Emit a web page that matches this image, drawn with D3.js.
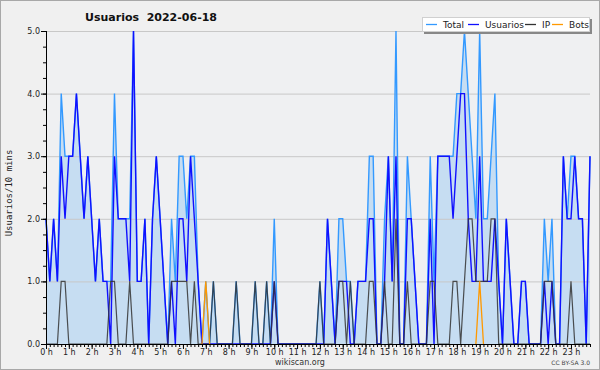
<!DOCTYPE html>
<html>
<head>
<meta charset="utf-8">
<script src="https://cdn.jsdelivr.net/npm/d3@7"></script>
<style>
body { margin: 0; background: #fff; }
svg text { font-family: "DejaVu Sans", sans-serif; }
</style>
</head>
<body>
<svg id="chart" width="600" height="370"></svg>
<script>
// 10 minute slots, 0h .. 23h50
var usuarios = [
  2,1,2,1,3,2,3,3,4,3,2,3,
  2,1,2,1,1,0,3,2,2,2,1,5,
  1,1,2,0,2,3,2,1,0,1,0,2,
  2,1,3,2,1,0,0,0,0,0,0,0,
  0,0,0,0,0,0,0,0,0,0,0,0,
  1,0,0,0,0,0,0,0,0,0,0,0,
  0,0,2,1,0,1,1,1,0,0,1,1,
  1,2,2,0,0,1,3,1,3,0,0,2,
  2,1,0,0,0,2,0,3,3,3,3,2,
  3,4,4,2,1,1,3,1,1,1,2,1,
  0,2,1,0,0,1,1,0,0,0,0,1,
  0,1,0,0,3,2,2,3,2,2,0,3
];
var ip = [
  0,0,0,0,1,1,0,0,0,0,0,0,
  0,0,0,0,0,1,1,0,0,0,1,0,
  0,0,0,0,0,0,0,0,0,1,1,1,
  1,1,0,1,0,0,0,0,1,0,0,0,
  0,0,1,0,0,0,0,1,0,0,1,0,
  1,0,0,0,0,0,0,0,0,0,0,0,
  1,0,0,0,0,1,1,0,1,0,0,0,
  0,1,1,0,0,1,0,0,2,0,0,1,
  0,0,0,0,0,1,1,0,0,0,0,1,
  1,0,1,2,2,1,1,1,1,2,2,0,
  0,0,0,0,0,0,0,0,0,0,0,1,
  1,1,0,0,0,0,1,0,0,0,0,0
];
var bots = [
  0,0,0,0,0,0,0,0,0,0,0,0,
  0,0,0,0,0,0,0,0,0,0,0,0,
  0,0,0,0,0,0,0,0,0,0,0,0,
  0,0,0,0,0,0,1,0,0,0,0,0,
  0,0,0,0,0,0,0,0,0,0,0,0,
  0,0,0,0,0,0,0,0,0,0,0,0,
  0,0,0,0,0,0,0,0,0,0,0,0,
  0,0,0,0,0,0,0,0,0,0,0,0,
  0,0,0,0,0,0,0,0,0,0,0,0,
  0,0,0,0,0,0,1,0,0,0,0,0,
  0,0,0,0,0,0,0,0,0,0,0,0,
  0,0,0,0,0,0,0,0,0,0,0,0
];
var total = [
  2,1,2,1,4,3,3,3,4,3,2,3,
  2,1,2,1,1,1,4,2,2,2,2,5,
  1,1,2,0,2,3,2,1,0,2,1,3,
  3,2,3,3,1,0,1,0,1,0,0,0,
  0,0,1,0,0,0,0,1,0,0,1,0,
  2,0,0,0,0,0,0,0,0,0,0,0,
  1,0,2,1,0,2,2,1,1,0,1,1,
  1,3,3,0,0,2,3,1,5,0,0,3,
  2,1,0,0,0,3,1,3,3,3,3,3,
  4,4,5,4,3,2,5,2,2,3,4,1,
  0,2,1,0,0,1,1,0,0,0,0,2,
  1,2,0,0,3,2,3,3,2,2,0,3
];
var hourLabels = ["0 h","1 h","2 h","3 h","4 h","5 h","6 h","7 h","8 h","9 h","10 h","11 h",
  "12 h","13 h","14 h","15 h","16 h","17 h","18 h","19 h","20 h","21 h","22 h","23 h"];
var yTicks = [0, 1, 2, 3, 4, 5];
var legendNames = ["Total", "Usuarios", "IP", "Bots"];
var colors = {Total: "#3399ff", Usuarios: "#1010ff", IP: "#333333", Bots: "#ff9900"};

var svg = d3.select("#chart");
var pLeft = 46, pRight = 590, pTop = 31, pBottom = 344;

svg.append("rect").attr("x", 0.5).attr("y", 0.5).attr("width", 599).attr("height", 369)
  .attr("fill", "#f0f0f0").attr("stroke", "#a8a8a8");
svg.append("rect").attr("x", pLeft).attr("y", pTop).attr("width", pRight - pLeft).attr("height", pBottom - pTop)
  .attr("fill", "#eff0f2");

var x = d3.scaleLinear().domain([0, usuarios.length - 1]).range([pLeft, pRight]);
var y = d3.scaleLinear().domain([0, 5]).range([pBottom, pTop]);

// fill under total
svg.append("path")
  .datum(total)
  .attr("fill", "#c6ddf2")
  .attr("d", d3.area().x(function(d, i) { return x(i); }).y0(y(0)).y1(function(d) { return y(d); }));

// grid
svg.append("g").selectAll("line")
  .data(yTicks.slice(1))
  .enter().append("line")
  .attr("x1", pLeft).attr("x2", pRight)
  .attr("y1", function(d) { return y(d) + 0.5; }).attr("y2", function(d) { return y(d) + 0.5; })
  .attr("stroke", "#c8c8c8");

var line = d3.line().x(function(d, i) { return x(i); }).y(function(d) { return y(d); });
var series = [["Total", total], ["Usuarios", usuarios], ["IP", ip]];
series.forEach(function(s) {
  svg.append("path").datum(s[1])
    .attr("fill", "none")
    .attr("stroke", colors[s[0]])
    .attr("stroke-width", s[0] == "IP" ? 1.2 : 1.4)
    .attr("stroke-opacity", s[0] == "IP" ? 0.85 : 1)
    .attr("d", line);
});
// bots: only around its non zero slots
var botLine = d3.line()
  .defined(function(d, i) { return d > 0 || bots[i - 1] > 0 || bots[i + 1] > 0; })
  .x(function(d, i) { return x(i); }).y(function(d) { return y(d); });
svg.append("path").datum(bots)
  .attr("fill", "none").attr("stroke", colors.Bots).attr("stroke-width", 1.3)
  .attr("d", botLine);

// y axis
var yMinor = svg.append("g").attr("transform", "translate(" + pLeft + ",0)")
  .call(d3.axisLeft(y).tickValues(d3.range(0, 21).map(function(k) { return k / 4; })).tickSize(3).tickFormat(""));
yMinor.select(".domain").remove();
var yAxis = svg.append("g").attr("transform", "translate(" + pLeft + ",0)")
  .call(d3.axisLeft(y).tickValues(yTicks).tickSize(5).tickSizeOuter(0).tickPadding(1).tickFormat(d3.format(".1f")));
yAxis.selectAll("text").attr("font-size", 8).attr("font-family", "DejaVu Sans").attr("fill", "#222");
yAxis.select(".domain").attr("d", "M0.5," + pTop + "V" + pBottom);

// x axis
var xMinor = svg.append("g").attr("transform", "translate(0," + pBottom + ")")
  .call(d3.axisBottom(x).tickValues(d3.range(0, usuarios.length)).tickSize(3).tickFormat(""));
xMinor.select(".domain").remove();
var xAxis = svg.append("g").attr("transform", "translate(0," + pBottom + ")")
  .call(d3.axisBottom(x).tickValues(d3.range(0, 24).map(function(h) { return h * 6; }))
    .tickSize(5).tickSizeOuter(0).tickPadding(0)
    .tickFormat(function(d) { return hourLabels[d / 6]; }));
xAxis.select(".domain").attr("d", "M" + pLeft + ",0.5H" + pRight);
xAxis.selectAll("text").attr("font-size", 8).attr("font-family", "DejaVu Sans").attr("fill", "#222");

// titles
svg.append("text").attr("x", 151).attr("y", 21).attr("text-anchor", "middle")
  .attr("font-size", 11).attr("font-weight", "bold").attr("fill", "#111")
  .attr("xml:space", "preserve").text("Usuarios  2022-06-18");
svg.append("text").attr("transform", "translate(12,193) rotate(-90)").attr("text-anchor", "middle")
  .attr("font-size", 9).style("font-family", "DejaVu Sans Mono").attr("fill", "#222")
  .text("Usuarios/10 mins");
svg.append("text").attr("x", 300).attr("y", 365).attr("text-anchor", "middle")
  .attr("font-size", 8).attr("fill", "#333").text("wikiscan.org");
svg.append("text").attr("x", 590).attr("y", 365).attr("text-anchor", "end")
  .attr("font-size", 6).attr("fill", "#444").text("CC BY-SA 3.0");

// legend
var lg = svg.append("g");
lg.append("rect").attr("x", 424).attr("y", 19).attr("width", 168).attr("height", 15).attr("fill", "#888");
lg.append("rect").attr("x", 422.5).attr("y", 17.5).attr("width", 167).attr("height", 14)
  .attr("fill", "#fff").attr("stroke", "#d0d0d0");
var lgX = [426, 468, 525, 552];
legendNames.forEach(function(n, i) {
  lg.append("line").attr("x1", lgX[i]).attr("x2", lgX[i] + 11).attr("y1", 24.5).attr("y2", 24.5)
    .attr("stroke", colors[n]).attr("stroke-width", 1.3);
  lg.append("text").attr("x", lgX[i] + 17).attr("y", 28).attr("font-size", 9).attr("fill", "#222").text(n);
});
</script>
</body>
</html>
